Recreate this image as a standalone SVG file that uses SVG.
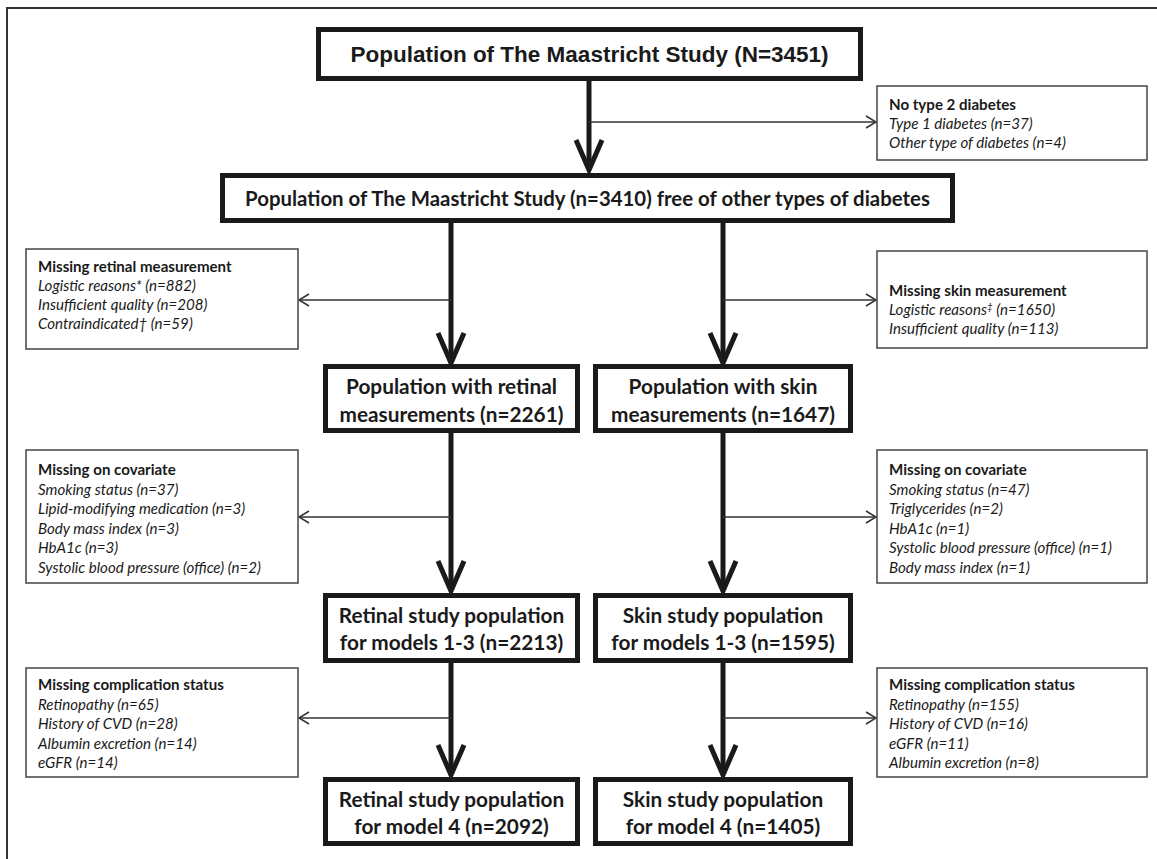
<svg xmlns="http://www.w3.org/2000/svg" width="1157" height="859" viewBox="0 0 1157 859">
<style>
.frame{fill:none;stroke:#333;stroke-width:2}
.main{fill:#fff;stroke:#1a1a1a;stroke-width:5}
.excl{fill:#fff;stroke:#444;stroke-width:1.5}
.flow{fill:none;stroke:#1a1a1a;stroke-width:5}
.head{fill:none;stroke:#1a1a1a;stroke-width:5;stroke-linejoin:miter;stroke-linecap:butt}
.thin{fill:none;stroke:#333;stroke-width:1.5}
.title{font-family:"Liberation Sans",Arial,sans-serif;font-weight:bold;font-size:22.5px;fill:#1a1a1a;text-anchor:middle}
.bt{font-family:Lato,"Open Sans",sans-serif;font-weight:bold;font-size:20.8px;fill:#1a1a1a;text-anchor:middle}
.eh{font-family:Lato,"Open Sans",sans-serif;font-weight:bold;font-size:15.1px;fill:#1a1a1a}
.ei{font-family:Lato,"Open Sans",sans-serif;font-style:italic;font-size:15.1px;fill:#1a1a1a}
</style>
<path class="frame" d="M7,859 V8 H1157"/>

<g id="connectors">
  <line class="flow" x1="589" y1="81" x2="589" y2="169"/>
  <path class="head" d="M576,140 L589,170 L602,140"/>
  <line class="thin" x1="589" y1="122" x2="876" y2="122"/>
  <path class="thin" d="M866,116 L876,122 L866,128"/>

  <line class="flow" x1="451" y1="223" x2="451" y2="362"/>
  <path class="head" d="M438,333 L451,363 L464,333"/>
  <line class="thin" x1="451" y1="300" x2="299" y2="300"/>
  <path class="thin" d="M309,294 L299,300 L309,306"/>

  <line class="flow" x1="723" y1="223" x2="723" y2="362"/>
  <path class="head" d="M710,333 L723,363 L736,333"/>
  <line class="thin" x1="723" y1="300" x2="876" y2="300"/>
  <path class="thin" d="M866,294 L876,300 L866,306"/>

  <line class="flow" x1="451" y1="433" x2="451" y2="590"/>
  <path class="head" d="M438,561 L451,591 L464,561"/>
  <line class="thin" x1="451" y1="517" x2="299" y2="517"/>
  <path class="thin" d="M309,511 L299,517 L309,523"/>

  <line class="flow" x1="723" y1="433" x2="723" y2="590"/>
  <path class="head" d="M710,561 L723,591 L736,561"/>
  <line class="thin" x1="723" y1="517" x2="876" y2="517"/>
  <path class="thin" d="M866,511 L876,517 L866,523"/>

  <line class="flow" x1="451" y1="663" x2="451" y2="774"/>
  <path class="head" d="M438,745 L451,775 L464,745"/>
  <line class="thin" x1="451" y1="718" x2="299" y2="718"/>
  <path class="thin" d="M309,712 L299,718 L309,724"/>

  <line class="flow" x1="723" y1="663" x2="723" y2="774"/>
  <path class="head" d="M710,745 L723,775 L736,745"/>
  <line class="thin" x1="723" y1="718" x2="876" y2="718"/>
  <path class="thin" d="M866,712 L876,718 L866,724"/>
</g>

<g id="n-population">
  <rect class="main" x="318.5" y="29.5" width="542" height="49"/>
  <text class="title" x="589.5" y="62">Population of The Maastricht Study (N=3451)</text>
</g>

<g id="x-no-type2">
  <rect class="excl" x="877" y="86" width="270" height="74"/>
  <text class="eh" x="889" y="110">No type 2 diabetes</text>
  <text class="ei" x="889" y="129">Type 1 diabetes (n=37)</text>
  <text class="ei" x="889" y="148">Other type of diabetes (n=4)</text>
</g>

<g id="n-free">
  <rect class="main" x="222.5" y="175.5" width="730" height="45"/>
  <text class="bt" style="font-size:20.4px" x="587.5" y="206">Population of The Maastricht Study (n=3410) free of other types of diabetes</text>
</g>

<g id="x-retinal">
  <rect class="excl" x="26" y="249" width="272" height="100"/>
  <text class="eh" x="38" y="271.5">Missing retinal measurement</text>
  <text class="ei" x="38" y="290.5">Logistic reasons* (n=882)</text>
  <text class="ei" x="38" y="309.5">Insufficient quality (n=208)</text>
  <text class="ei" x="38" y="328.5">Contraindicated† (n=59)</text>
</g>

<g id="x-skin">
  <rect class="excl" x="877" y="251" width="270" height="97"/>
  <text class="eh" x="889" y="296">Missing skin measurement</text>
  <text class="ei" x="889" y="315">Logistic reasons<tspan font-size="10" dy="-5">‡</tspan><tspan dy="5"> (n=1650)</tspan></text>
  <text class="ei" x="889" y="334">Insufficient quality (n=113)</text>
</g>

<g id="n-retinal">
  <rect class="main" x="325.5" y="366.5" width="252" height="64"/>
  <text class="bt" x="451.5" y="394">Population with retinal</text>
  <text class="bt" x="451.5" y="422">measurements (n=2261)</text>
</g>

<g id="n-skin">
  <rect class="main" x="595.5" y="366.5" width="255" height="64"/>
  <text class="bt" x="723" y="394">Population with skin</text>
  <text class="bt" x="723" y="422">measurements (n=1647)</text>
</g>

<g id="x-cov-retinal">
  <rect class="excl" x="26" y="450" width="272" height="133"/>
  <text class="eh" x="38" y="475">Missing on covariate</text>
  <text class="ei" x="38" y="494.5">Smoking status (n=37)</text>
  <text class="ei" x="38" y="514">Lipid-modifying medication (n=3)</text>
  <text class="ei" x="38" y="533.5">Body mass index (n=3)</text>
  <text class="ei" x="38" y="553">HbA1c (n=3)</text>
  <text class="ei" x="38" y="572.5">Systolic blood pressure (office) (n=2)</text>
</g>

<g id="x-cov-skin">
  <rect class="excl" x="877" y="450" width="270" height="133"/>
  <text class="eh" x="889" y="475">Missing on covariate</text>
  <text class="ei" x="889" y="494.5">Smoking status (n=47)</text>
  <text class="ei" x="889" y="514">Triglycerides (n=2)</text>
  <text class="ei" x="889" y="533.5">HbA1c (n=1)</text>
  <text class="ei" x="889" y="553">Systolic blood pressure (office) (n=1)</text>
  <text class="ei" x="889" y="572.5">Body mass index (n=1)</text>
</g>

<g id="n-retinal-13">
  <rect class="main" x="325.5" y="595.5" width="252" height="65"/>
  <text class="bt" x="451.5" y="623">Retinal study population</text>
  <text class="bt" x="451.5" y="650">for models 1-3 (n=2213)</text>
</g>

<g id="n-skin-13">
  <rect class="main" x="595.5" y="595.5" width="255" height="65"/>
  <text class="bt" x="723" y="623">Skin study population</text>
  <text class="bt" x="723" y="650">for models 1-3 (n=1595)</text>
</g>

<g id="x-comp-retinal">
  <rect class="excl" x="26" y="668" width="272" height="109"/>
  <text class="eh" x="38" y="690">Missing complication status</text>
  <text class="ei" x="38" y="709.5">Retinopathy (n=65)</text>
  <text class="ei" x="38" y="729">History of CVD (n=28)</text>
  <text class="ei" x="38" y="748.5">Albumin excretion (n=14)</text>
  <text class="ei" x="38" y="768">eGFR (n=14)</text>
</g>

<g id="x-comp-skin">
  <rect class="excl" x="877" y="668" width="270" height="109"/>
  <text class="eh" x="889" y="690">Missing complication status</text>
  <text class="ei" x="889" y="709.5">Retinopathy (n=155)</text>
  <text class="ei" x="889" y="729">History of CVD (n=16)</text>
  <text class="ei" x="889" y="748.5">eGFR (n=11)</text>
  <text class="ei" x="889" y="768">Albumin excretion (n=8)</text>
</g>

<g id="n-retinal-4">
  <rect class="main" x="325.5" y="779.5" width="252" height="64"/>
  <text class="bt" x="451.5" y="807">Retinal study population</text>
  <text class="bt" x="451.5" y="834">for model 4 (n=2092)</text>
</g>

<g id="n-skin-4">
  <rect class="main" x="595.5" y="779.5" width="255" height="64"/>
  <text class="bt" x="723" y="807">Skin study population</text>
  <text class="bt" x="723" y="834">for model 4 (n=1405)</text>
</g>
</svg>
